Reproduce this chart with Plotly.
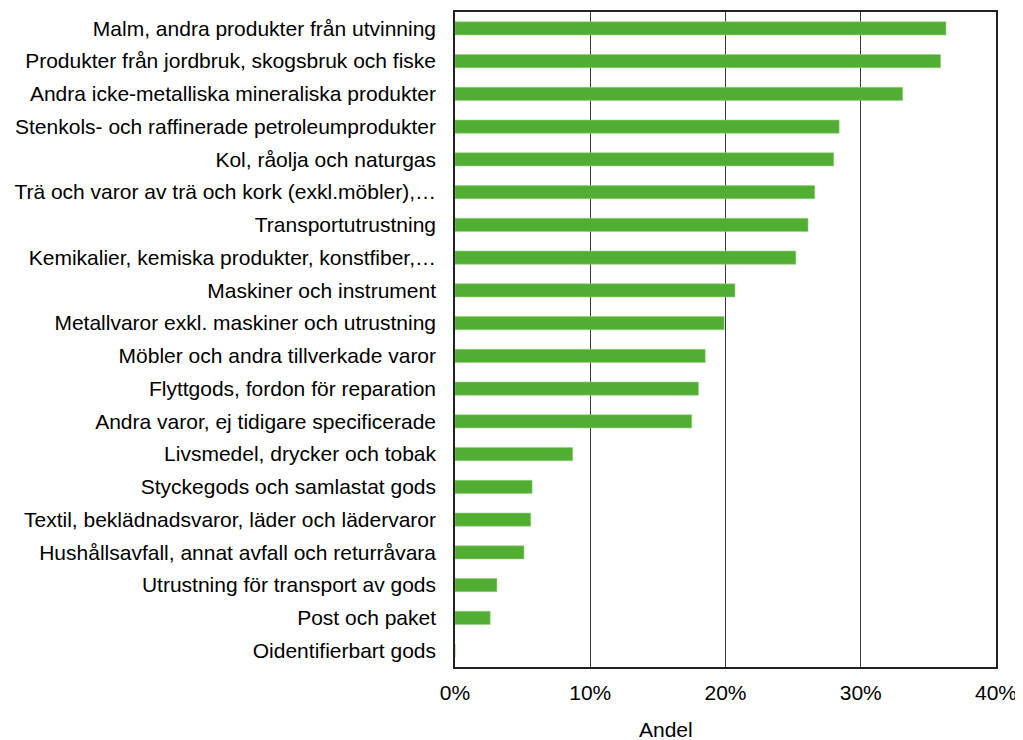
import plotly.graph_objects as go

# Varugrupper (uppifrån och ned) och andel
kategorier = [
    "Malm, andra produkter från utvinning",
    "Produkter från jordbruk, skogsbruk och fiske",
    "Andra icke-metalliska mineraliska produkter",
    "Stenkols- och raffinerade petroleumprodukter",
    "Kol, råolja och naturgas",
    "Trä och varor av trä och kork (exkl.möbler),…",
    "Transportutrustning",
    "Kemikalier, kemiska produkter, konstfiber,…",
    "Maskiner och instrument",
    "Metallvaror exkl. maskiner och utrustning",
    "Möbler och andra tillverkade varor",
    "Flyttgods, fordon för reparation",
    "Andra varor, ej tidigare specificerade",
    "Livsmedel, drycker och tobak",
    "Styckegods och samlastat gods",
    "Textil, beklädnadsvaror, läder och lädervaror",
    "Hushållsavfall, annat avfall och returråvara",
    "Utrustning för transport av gods",
    "Post och paket",
    "Oidentifierbart gods",
]
andel = [0.363, 0.359, 0.331, 0.284, 0.280, 0.266, 0.261, 0.252, 0.207, 0.199,
         0.185, 0.180, 0.175, 0.087, 0.057, 0.056, 0.051, 0.031, 0.026, 0.0]

x_ticks = [0, 0.1, 0.2, 0.3, 0.4]
x_ticktext = ["0%", "10%", "20%", "30%", "40%"]

GREEN = "#52AE32"

fig = go.Figure(go.Bar(
    x=andel,
    y=kategorier,
    orientation="h",
    marker=dict(color=GREEN, line=dict(color="#8FD07A", width=0.6)),
    width=0.4,
    hovertemplate="%{y}<br>%{x:.1%}<extra></extra>",
))

fig.update_layout(
    # sidan har 8 px marginal i body, därför lite mindre än fönstret
    width=1015, height=732,
    paper_bgcolor="white", plot_bgcolor="white",
    font=dict(family="Liberation Sans, Arial, sans-serif", size=21, color="black"),
    # lite extra höger så att "40%" inte klipps
    margin=dict(l=447, r=27, t=2, b=73),
    showlegend=False,
    xaxis=dict(
        range=[0, 0.4],
        tickvals=x_ticks, ticktext=x_ticktext,
        showgrid=True, gridcolor="#3a3a3a", gridwidth=1,
        showline=True, linecolor="#222", linewidth=1.5, mirror=True,
        zeroline=False, ticks="", ticklabelstandoff=6,
    ),
    yaxis=dict(
        autorange="reversed",
        showline=True, linecolor="#222", linewidth=1.5, mirror=True,
        ticks="", ticklabelstandoff=13, showgrid=False,
    ),
    annotations=[dict(
        text="Andel", xref="paper", yref="paper",
        x=0.39, y=-0.096, xanchor="center", yanchor="middle",
        showarrow=False, font=dict(size=21),
    )],
)

fig.write_html("out.html")
